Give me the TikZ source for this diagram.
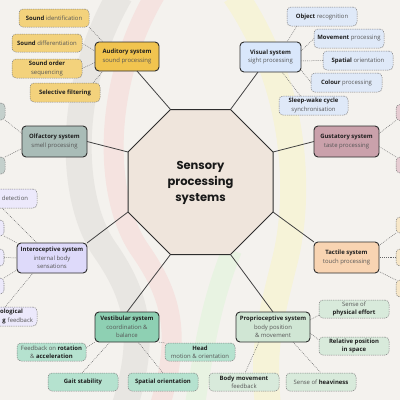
\documentclass[tikz,border=0pt]{standalone}
\usepackage{fontspec}
\setmainfont{Open Sans}
\newfontfamily\titlefnt{Poppins}
\usetikzlibrary{calc}
\definecolor{bgc}{HTML}{F4F2EE}
\definecolor{octc}{HTML}{EFE5DC}
\definecolor{audc}{HTML}{F1C44F}\definecolor{auds}{HTML}{F3D27C}
\definecolor{visc}{HTML}{D9E7FB}\definecolor{viss}{HTML}{DFE9F8}
\definecolor{olfc}{HTML}{A9BCB7}\definecolor{olfs}{HTML}{C4D0CC}
\definecolor{gusc}{HTML}{CAA1AB}\definecolor{guss}{HTML}{E6CCD2}
\definecolor{intc}{HTML}{DEDAFA}\definecolor{ints}{HTML}{ECE9FB}
\definecolor{tacc}{HTML}{F8D4B2}\definecolor{tacs}{HTML}{F7E7C8}
\definecolor{vesc}{HTML}{8ED0B3}\definecolor{vess}{HTML}{B5E2CF}
\definecolor{proc}{HTML}{D0E6D4}\definecolor{pros}{HTML}{D8EADB}
\definecolor{regc}{HTML}{555555}
\definecolor{boldc}{HTML}{1E1E1E}
\definecolor{edgec}{HTML}{2D2D2D}
\newcommand\smallfnt{\fontsize{5.95}{8.3}\selectfont}
\newcommand\bw[1]{{\bfseries\color{boldc}#1}}
\tikzset{
  sysbox/.style={draw=edgec, line width=0.9pt, rounded corners=4pt, align=center,
    inner sep=1pt, outer sep=0pt, font=\smallfnt, text=regc},
  subbox/.style={draw=black!50, line width=0.5pt, dash pattern=on 1.3pt off 0.9pt,
    rounded corners=4pt, align=center, inner sep=1pt, outer sep=0pt, font=\smallfnt,
    text=regc, minimum width=70pt, minimum height=18pt},
  spoke/.style={draw=edgec!90, line width=0.8pt},
  dotc/.style={draw=black!60, line width=0.5pt, dash pattern=on 0.8pt off 1.1pt},
  band/.style={line width=26pt, line cap=butt}
}
\begin{document}
\begin{tikzpicture}[x=1pt,y=-1pt]
\fill[bgc] (0,0) rectangle (400,400);
\useasboundingbox (0,0) rectangle (400,400);
% background bands
\draw[band, color=black!5!bgc] (120,-5) .. controls (65,90) and (70,200) .. (105,250) .. controls (140,300) and (145,340) .. (125,405);
\draw[band, line width=20pt, color=red!6!bgc] (155,-5) .. controls (100,90) and (105,200) .. (140,250) .. controls (175,300) and (180,340) .. (160,405);
\draw[band, color=yellow!10!bgc] (235,-5) .. controls (300,90) and (300,200) .. (285,260) .. controls (270,320) and (262,350) .. (268,405);
\draw[band, line width=20pt, color=green!5!bgc] (195,405) .. controls (205,340) and (212,300) .. (232,250);
% octagon
\coordinate (v1) at (230.5,109.5);
\coordinate (v2) at (170.5,109.5);
\coordinate (v3) at (128,152);
\coordinate (v4) at (128,212);
\coordinate (v5) at (170.5,254.5);
\coordinate (v6) at (230.5,254.5);
\coordinate (v7) at (273,212);
\coordinate (v8) at (273,152);
\draw[fill=octc, draw=edgec, line width=1pt, line join=miter] (v1)--(v2)--(v3)--(v4)--(v5)--(v6)--(v7)--(v8)--cycle;
\node[align=center, font={\titlefnt\bfseries\fontsize{11.5}{16}\selectfont}, text=black!90] (title) at (200.5,183) {Sensory\\processing\\systems};
% system nodes
\node[sysbox, fill=audc, minimum width=64pt, minimum height=29pt] (aud) at (127,56.5) {\bw{Auditory system}\\sound processing};
\node[sysbox, fill=visc, minimum width=61pt, minimum height=30pt] (vis) at (270.5,57) {\bw{Visual system}\\sight processing};
\node[sysbox, fill=olfc, minimum width=65pt, minimum height=31pt] (olf) at (54.5,141.5) {\bw{Olfactory system}\\smell processing};
\node[sysbox, fill=gusc, minimum width=65pt, minimum height=31pt] (gus) at (346.5,141.5) {\bw{Gustatory system}\\taste processing};
\node[sysbox, fill=intc, minimum width=70pt, minimum height=30pt] (int) at (52,258) {\bw{Interoceptive system}\\internal body\\sensations};
\node[sysbox, fill=tacc, minimum width=65pt, minimum height=31pt] (tac) at (346.5,257.5) {\bw{Tactile system}\\touch processing};
\node[sysbox, fill=vesc, minimum width=64pt, minimum height=30pt] (vest) at (127,327) {\bw{Vestibular system}\\coordination \&\\balance};
\node[sysbox, fill=proc, minimum width=74pt, minimum height=30pt] (prop) at (273,327) {\bw{Proprioceptive system}\\body position\\\& movement};
% spokes
\draw[spoke] (v2) -- ($(aud.south)+(10,0)$);
\draw[spoke] (v1) -- ($(vis.south west)+(18,0)$);
\draw[spoke] (v3) -- (olf.east);
\draw[spoke] (v8) -- (gus.west);
\draw[spoke] (v4) -- (int.north east);
\draw[spoke] (v7) -- (tac.north west);
\draw[spoke] (v5) -- (vest.north);
\draw[spoke] (v6) -- (prop.north);
% auditory subs
\node[subbox, fill=auds] (sid) at (54,18) {\bw{Sound} identification};
\node[subbox, fill=auds] (sdf) at (47,43) {\bw{Sound} differentiation};
\node[subbox, fill=auds, minimum height=19pt] (sos) at (47,68.5) {\bw{Sound order}\\sequencing};
\node[subbox, fill=auds, minimum height=19pt] (sfl) at (65,92.5) {\bw{Selective filtering}};
\draw[dotc] (sid.south east) -- ($(aud.north west)+(8,0)$);
\draw[dotc] (sdf.east) -- ($(aud.west)+(0,-5.5)$);
\draw[dotc] (sos.east) -- ($(aud.west)+(0,6)$);
\draw[dotc] ($(sfl.north east)+(-7,0)$) -- ($(aud.south west)+(8,0)$);
% visual subs
\node[subbox, fill=viss, minimum height=19pt] (obj) at (322,16.5) {\bw{Object} recognition};
\node[subbox, fill=viss, minimum height=19pt] (mov) at (349,38.5) {\bw{Movement} processing};
\node[subbox, fill=viss, minimum height=19pt] (spo) at (358,60.5) {\bw{Spatial} orientation};
\node[subbox, fill=viss, minimum height=19pt, minimum width=71pt] (col) at (346.5,82.5) {\bw{Colour} processing};
\node[subbox, fill=viss, minimum height=19pt, minimum width=69pt] (slp) at (313.5,105.5) {\bw{Sleep-wake cycle}\\synchronisation};
\draw[dotc] ($(obj.south west)+(10,0)$) -- ($(vis.north east)+(-14,0)$);
\draw[dotc] (mov.west) -- ($(vis.east)+(0,-6)$);
\draw[dotc] (spo.west) -- ($(vis.east)+(0,4)$);
\draw[dotc] (col.west) -- ($(vis.south east)+(0,-2)$);
\draw[dotc] ($(slp.north)+(-13,0)$) -- ($(vis.south east)+(-19,0)$);
% olfactory partial subs
\node[subbox, fill=olfs, minimum height=17pt] (olfa) at (-30,111.5) {};
\node[subbox, fill=olfs, minimum height=17pt] (olfb) at (-30,165.5) {};
\draw[dotc] (olfa.south east) -- ($(olf.west)+(0,-8)$);
\draw[dotc] (olfb.north east) -- ($(olf.west)+(0,7)$);
% gustatory partial subs
\node[subbox, fill=guss, minimum height=16pt] (gusa) at (431,112.5) {};
\node[subbox, fill=guss, minimum height=16pt] (gusb) at (431,165) {};
\draw[dotc] (gusa.south west) -- ($(gus.east)+(0,-8)$);
\draw[dotc] (gusb.north west) -- ($(gus.east)+(0,5)$);
% interoceptive subs
\node[subbox, fill=ints, minimum height=19pt, text width=62pt, align=right, inner xsep=4pt] (det) at (2,198.5) {detection\kern5pt};
\node[subbox, fill=ints, minimum height=16pt] (inta) at (-31,228) {};
\node[subbox, fill=ints, minimum height=17pt] (intb) at (-31,257.5) {};
\node[subbox, fill=ints, minimum height=16pt] (intc) at (-31,286) {};
\node[subbox, fill=ints, minimum height=19pt, text width=62pt, align=right, inner xsep=4pt] (lfb) at (2,316.5) {\bw{ological}\kern10pt\\\bw{g} feedback};
\draw[dotc] (det.south) -- ($(int.north west)+(20,0)$);
\draw[dotc] (inta.south east) -- (int.north west);
\draw[dotc] (intb.east) -- (int.west);
\draw[dotc] (intc.north east) -- ($(int.south west)+(0,-3)$);
\draw[dotc] ($(lfb.north west)+(38,0)$) -- ($(int.south west)+(16,0)$);
% tactile partial subs
\node[subbox, fill=tacs, minimum height=16pt] (taca) at (431,225) {};
\node[subbox, fill=tacs, minimum height=17pt] (tacb) at (431,257.5) {};
\node[subbox, fill=tacs, minimum height=17pt] (tacd) at (431,288.5) {};
\draw[dotc] (taca.south west) -- ($(tac.east)+(0,-12)$);
\draw[dotc] (tacb.west) -- (tac.east);
\draw[dotc] (tacd.north west) -- ($(tac.east)+(0,14)$);
% vestibular subs
\node[subbox, fill=vess, minimum width=69pt] (fra) at (51.5,352) {Feedback on \bw{rotation}\\\& \bw{acceleration}};
\node[subbox, fill=vess] (head) at (200,352) {\bw{Head}\\motion \& orientation};
\node[subbox, fill=vess] (gait) at (83,382) {\bw{Gait stability}};
\node[subbox, fill=vess] (spor) at (163,382) {\bw{Spatial orientation}};
\draw[dotc] ($(fra.east)+(0,-4)$) -- (vest.south west);
\draw[dotc] ($(gait.north)+(-1,0)$) -- ($(vest.south west)+(15,0)$);
\draw[dotc] (spor.north) -- ($(vest.south)+(11,0)$);
\draw[dotc] (vest.south east) -- (head.north west);
% proprioceptive subs
\node[subbox, fill=pros] (pef) at (354,309) {Sense of\\\bw{physical effort}};
\node[subbox, fill=pros] (rel) at (354,346) {\bw{Relative position}\\\bw{in space}};
\node[subbox, fill=pros] (bmf) at (244,382) {\bw{Body movement}\\feedback};
\node[subbox, fill=pros] (hev) at (321,382) {Sense of \bw{heaviness}};
\draw[dotc] ($(prop.east)+(0,-7)$) -- ($(pef.south west)+(0,-3)$);
\draw[dotc] ($(prop.east)+(0,6)$) -- ($(rel.west)+(0,-6)$);
\draw[dotc] ($(prop.south west)+(23,0)$) -- ($(bmf.north)+(1,0)$);
\draw[dotc] ($(prop.south)+(20,0)$) -- (hev.north);
\end{tikzpicture}
\end{document}
